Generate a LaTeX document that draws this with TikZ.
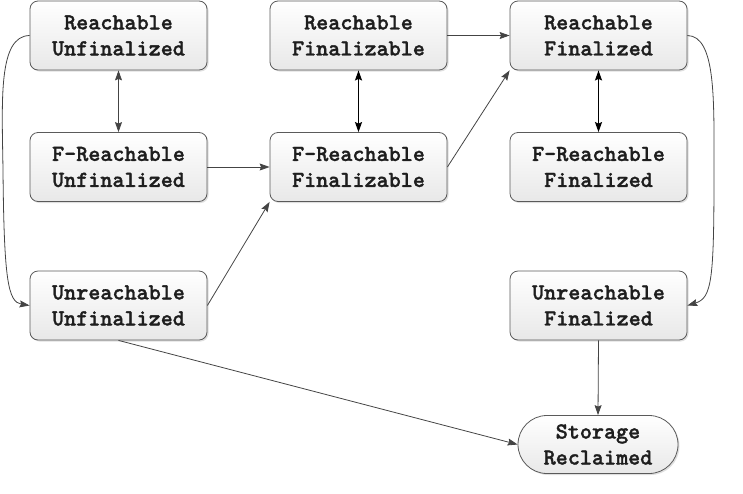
\documentclass[tikz,border=0pt]{standalone}
\usepackage{fontspec}
\newfontfamily\courlike{lmmonolt10-bold}[Extension=.otf, FakeBold=1.4]
\usetikzlibrary{arrows.meta,shadows,shapes.misc}
\definecolor{edgegray}{HTML}{444444}
\definecolor{boxline}{HTML}{5A5A5A}
\definecolor{txt}{HTML}{1E1E1E}
\tikzset{
  statebox/.style={draw=boxline, line width=0.8pt, rounded corners=8pt,
    top color=white, bottom color=black!9,
    drop shadow={shadow xshift=1.5pt, shadow yshift=-1.5pt, fill=black!25, opacity=0.5},
    minimum width=177pt, minimum height=69pt, inner sep=0pt, align=center,
    font=\fontsize{23pt}{26pt}\selectfont\courlike, text=txt},
  endbox/.style={statebox, rounded rectangle, minimum width=160pt, minimum height=58pt, rounded corners=0pt},
  conn/.style={draw=edgegray, line width=0.8pt, -{Stealth[length=10pt,width=7pt,inset=1.5pt]}},
  dconn/.style={draw=edgegray, line width=0.8pt, {Stealth[length=10pt,width=7pt,inset=1.5pt]}-{Stealth[length=10pt,width=7pt,inset=1.5pt]}},
  bconn/.style={draw=black, line width=1.4pt, {Stealth[length=10pt,width=7pt,inset=1.5pt]}-{Stealth[length=10pt,width=7pt,inset=1.5pt]}},
}
\begin{document}
\begin{tikzpicture}[x=1pt,y=-1pt]
\useasboundingbox (0,0) rectangle (743,493);
\node[statebox] (A) at (118.5,35.5) {Reachable\\Unfinalized};
\node[statebox] (B) at (358.5,35.5) {Reachable\\Finalizable};
\node[statebox] (C) at (598.5,35.5) {Reachable\\Finalized};
\node[statebox] (D) at (118.5,167) {F-Reachable\\Unfinalized};
\node[statebox] (E) at (358.5,167) {F-Reachable\\Finalizable};
\node[statebox] (F) at (598.5,167) {F-Reachable\\Finalized};
\node[statebox] (G) at (118.5,305.5) {Unreachable\\Unfinalized};
\node[statebox] (H) at (598.5,305.5) {Unreachable\\Finalized};
\node[endbox] (S) at (598,444.5) {Storage\\Reclaimed};

\draw[dconn] (A.south) -- (D.north);
\draw[bconn] (B.south) -- (E.north);
\draw[bconn] (C.south) -- (F.north);
\draw[conn] (B.east) -- (C.west);
\draw[conn] (D.east) -- (E.west);
\draw[conn] (G.east) -- (E.south west);
\draw[conn] (E.east) -- (C.south west);
\draw[conn] (G.south) -- (S.west);
\draw[conn] (H.south) -- (S.north);
\draw[conn] (A.west) .. controls (-2,36) and (2,100) .. (3,170) .. controls (4,280) and (8,302) .. (G.west);
\draw[conn] (C.east) .. controls (716,36) and (714,100) .. (714,170) .. controls (714,280) and (712,298) .. (H.east);
\end{tikzpicture}
\end{document}
